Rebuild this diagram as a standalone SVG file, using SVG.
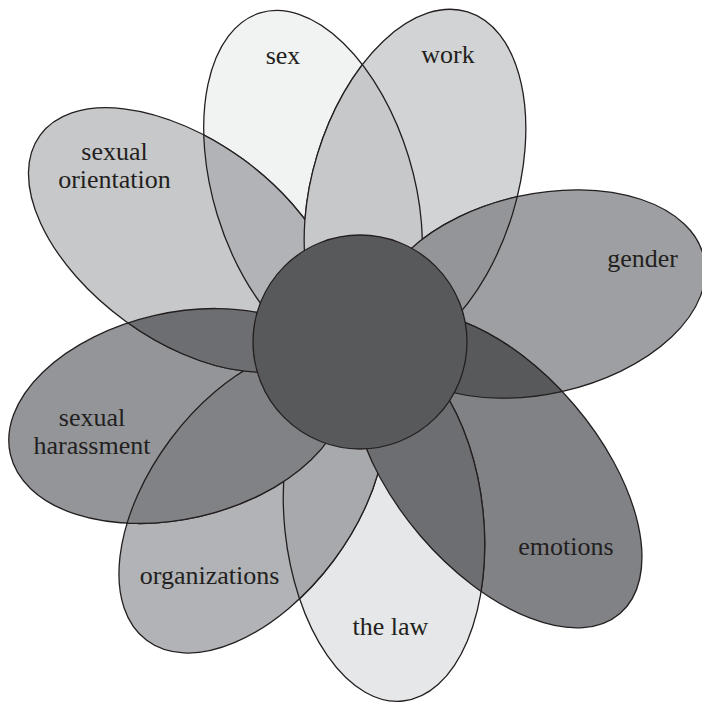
<svg xmlns="http://www.w3.org/2000/svg" xmlns:xlink="http://www.w3.org/1999/xlink" width="702" height="703" viewBox="0 0 702 703">
<style>
.o{stroke:#231f20;stroke-width:1.3}
.n{fill:none;stroke:#231f20;stroke-width:1.3}
.lab{font-family:"Liberation Serif","Times New Roman",serif;font-size:26px;fill:#231f20;text-anchor:middle}
</style>
<defs>
<ellipse id="e-sex" cx="313" cy="186" rx="100" ry="181" transform="rotate(-17 313 186)"/>
<ellipse id="e-work" cx="415" cy="184" rx="102" ry="180" transform="rotate(17 415 184)"/>
<ellipse id="e-gender" cx="540" cy="294" rx="168" ry="100" transform="rotate(-12.5 540 294)"/>
<ellipse id="e-emotions" cx="497" cy="470" rx="101" ry="189" transform="rotate(-40.6 497 470)"/>
<ellipse id="e-law" cx="384" cy="521" rx="99.5" ry="181" transform="rotate(-6 384 521)"/>
<ellipse id="e-org" cx="252" cy="500" rx="101.6" ry="175.5" transform="rotate(36.9 252 500)"/>
<ellipse id="e-har" cx="177" cy="416" rx="171" ry="103" transform="rotate(-13 177 416)"/>
<ellipse id="e-ori" cx="184" cy="240" rx="178" ry="100" transform="rotate(36 184 240)"/>
<clipPath id="c-sex"><use xlink:href="#e-sex"/></clipPath>
<clipPath id="c-work"><use xlink:href="#e-work"/></clipPath>
<clipPath id="c-gender"><use xlink:href="#e-gender"/></clipPath>
<clipPath id="c-emotions"><use xlink:href="#e-emotions"/></clipPath>
<clipPath id="c-law"><use xlink:href="#e-law"/></clipPath>
<clipPath id="c-org"><use xlink:href="#e-org"/></clipPath>
<clipPath id="c-har"><use xlink:href="#e-har"/></clipPath>
<clipPath id="c-ori"><use xlink:href="#e-ori"/></clipPath>
</defs>

<g id="sex"><use xlink:href="#e-sex" class="o" fill="#f1f2f2"/><text class="lab" x="283" y="64">sex</text></g>
<g id="work"><use xlink:href="#e-work" class="o" fill="#d1d3d4"/><text class="lab" x="448" y="63">work</text></g>
<g id="gender"><use xlink:href="#e-gender" class="o" fill="#9d9fa2"/><text class="lab" x="642.5" y="267">gender</text></g>
<g id="emotions"><use xlink:href="#e-emotions" class="o" fill="#808285"/><text class="lab" x="566" y="555">emotions</text></g>
<g id="the-law"><use xlink:href="#e-law" class="o" fill="#e6e7e8"/><text class="lab" x="390.5" y="635">the law</text></g>
<g id="organizations"><use xlink:href="#e-org" class="o" fill="#b1b3b6"/><text class="lab" x="209.5" y="584">organizations</text></g>
<g id="sexual-harassment"><use xlink:href="#e-har" class="o" fill="#939598"/><text class="lab" x="92" y="426">sexual</text><text class="lab" x="92" y="454">harassment</text></g>
<g id="sexual-orientation"><use xlink:href="#e-ori" class="o" fill="#c7c8ca"/><text class="lab" x="114.5" y="160">sexual</text><text class="lab" x="114.5" y="188">orientation</text></g>

<g id="overlaps">
<g clip-path="url(#c-sex)"><use xlink:href="#e-ori" class="o" fill="#b1b3b6"/></g>
<g clip-path="url(#c-ori)"><use xlink:href="#e-sex" class="n"/></g>
<g clip-path="url(#c-work)"><use xlink:href="#e-sex" class="o" fill="#c7c8ca"/></g>
<g clip-path="url(#c-sex)"><use xlink:href="#e-work" class="n"/></g>
<g clip-path="url(#c-gender)"><use xlink:href="#e-work" class="o" fill="#939598"/></g>
<g clip-path="url(#c-work)"><use xlink:href="#e-gender" class="n"/></g>
<g clip-path="url(#c-emotions)"><use xlink:href="#e-gender" class="o" fill="#58595b"/></g>
<g clip-path="url(#c-gender)"><use xlink:href="#e-emotions" class="n"/></g>
<g clip-path="url(#c-org)"><use xlink:href="#e-law" class="o" fill="#a7a9ac"/></g>
<g clip-path="url(#c-law)"><use xlink:href="#e-org" class="n"/></g>
<g clip-path="url(#c-law)"><use xlink:href="#e-emotions" class="o" fill="#6d6e71"/></g>
<g clip-path="url(#c-emotions)"><use xlink:href="#e-law" class="n"/></g>
<g clip-path="url(#c-org)"><use xlink:href="#e-har" class="o" fill="#808285"/></g>
<g clip-path="url(#c-har)"><use xlink:href="#e-org" class="n"/></g>
<g clip-path="url(#c-har)"><use xlink:href="#e-ori" class="o" fill="#6d6e71"/></g>
<g clip-path="url(#c-ori)"><use xlink:href="#e-har" class="n"/></g>
</g>

<g id="center"><circle cx="360" cy="342" r="107" class="o" fill="#58595b"/></g>
</svg>
